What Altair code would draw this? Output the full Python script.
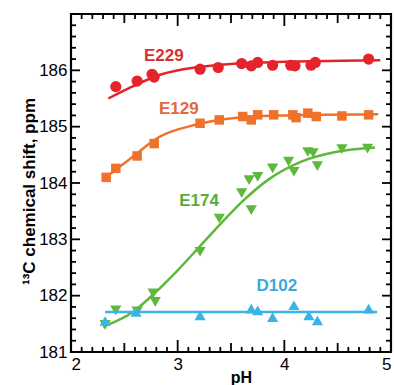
import altair as alt
import pandas as pd

# ---------------- data ----------------
e229_ph  = [2.42, 2.62, 2.76, 2.78, 3.21, 3.38, 3.60, 3.69, 3.75, 3.89, 4.06, 4.10, 4.25, 4.29, 4.79]
e229_ppm = [185.71, 185.81, 185.93, 185.88, 186.02, 186.05, 186.12, 186.08, 186.14, 186.09, 186.09, 186.08, 186.09, 186.14, 186.20]
e229_fit_ph  = [2.35, 2.54, 2.85, 3.16, 3.47, 3.79, 4.90]
e229_fit_ppm = [185.50, 185.68, 185.93, 186.05, 186.11, 186.14, 186.18]

e129_ph  = [2.33, 2.42, 2.62, 2.78, 3.21, 3.39, 3.61, 3.69, 3.75, 3.90, 4.08, 4.11, 4.22, 4.30, 4.54, 4.79]
e129_ppm = [184.10, 184.26, 184.48, 184.70, 185.06, 185.12, 185.18, 185.12, 185.21, 185.21, 185.21, 185.16, 185.24, 185.18, 185.19, 185.21]
e129_fit_ph  = [2.34, 2.54, 2.85, 3.16, 3.47, 3.79, 4.88]
e129_fit_ppm = [184.12, 184.41, 184.84, 185.03, 185.14, 185.19, 185.22]

e174_ph  = [2.32, 2.42, 2.62, 2.77, 2.79, 3.21, 3.39, 3.60, 3.67, 3.69, 3.75, 3.89, 4.04, 4.09, 4.22, 4.27, 4.31, 4.54, 4.78]
e174_ppm = [181.48, 181.74, 181.72, 182.04, 181.89, 182.78, 183.37, 183.82, 184.05, 183.52, 184.11, 184.26, 184.38, 184.20, 184.55, 184.53, 184.30, 184.60, 184.61]
e174_fit_ph  = [2.30, 2.58, 2.77, 3.00, 3.21, 3.40, 3.60, 3.85, 4.16, 4.48, 4.85]
e174_fit_ppm = [181.45, 181.71, 182.02, 182.45, 182.88, 183.27, 183.66, 184.06, 184.38, 184.55, 184.63]

d102_ph  = [2.32, 2.61, 3.21, 3.69, 3.75, 3.89, 4.09, 4.23, 4.31, 4.79]
d102_ppm = [181.55, 181.71, 181.65, 181.77, 181.74, 181.62, 181.83, 181.65, 181.56, 181.77]
d102_fit_ph  = [2.32, 4.87]
d102_fit_ppm = [181.71, 181.71]

label_text = ["E229", "E129", "E174", "D102"]
label_ph   = [2.87, 3.01, 3.20, 3.93]
label_ppm  = [186.25, 185.31, 183.68, 182.17]
colors     = ["#e4232a", "#f0712a", "#5db83c", "#3ab4e6"]
label_colors = ["#d9302e", "#e2683a", "#57ad3c", "#3aa9de"]
shapes     = ["circle", "square", "triangle-down", "triangle-up"]

x_major = [2, 3, 4, 5]
x_half  = [2.5, 3.5, 4.5]
x_minor = [round(2 + i / 10, 1) for i in range(1, 30) if i % 5 != 0]
y_labels = [181, 182, 183, 184, 185, 186]
y_major = [181, 182, 183, 184, 185, 186, 187]
y_minor = [round(181 + i / 5, 1) for i in range(1, 30) if i % 5 != 0]

W, H = 320, 338
FONT = "Liberation Sans"

xs = alt.Scale(domain=[2, 5], nice=False, zero=False)
ys = alt.Scale(domain=[181, 187], nice=False, zero=False)

x_axis = alt.Axis(values=x_major, ticks=False, domain=False, grid=False,
                  labelFont=FONT, labelFontSize=17, labelColor="black", labelPadding=4,
                  titleFont=FONT, titleFontSize=16, titleFontWeight="bold", titleColor="black",
                  titleX=170, titleY=17, titleBaseline="top", titleAlign="center")
y_axis = alt.Axis(values=y_labels, ticks=False, domain=False, grid=False,
                  labelFont=FONT, labelFontSize=17, labelColor="black", labelPadding=4,
                  titleFont=FONT, titleFontSize=17, titleFontWeight="bold", titleColor="black",
                  titleX=-42, titleY=177, titleAngle=270, titleBaseline="middle", titleAlign="center")
X_TITLE = "pH"
Y_TITLE = "¹³C chemical shift, ppm"

def xenc(field="pH"):
    return alt.X(f"{field}:Q", scale=xs, axis=x_axis, title=X_TITLE)

def yenc(field="ppm"):
    return alt.Y(f"{field}:Q", scale=ys, axis=y_axis, title=Y_TITLE)

layers = []

# inward ticks
def xticks(vals, length, top):
    df = pd.DataFrame({"t": vals})
    if top:
        yy, yy2 = alt.value(0), alt.value(length)
    else:
        yy, yy2 = alt.value(H), alt.value(H - length)
    return alt.Chart(df).mark_rule(color="black", strokeWidth=1.8).encode(
        x=xenc("t"), y=yy, y2=yy2)

def yticks(vals, length, right):
    df = pd.DataFrame({"t": vals})
    if right:
        xx, xx2 = alt.value(W), alt.value(W - length)
    else:
        xx, xx2 = alt.value(0), alt.value(length)
    return alt.Chart(df).mark_rule(color="black", strokeWidth=1.8).encode(
        y=yenc("t"), x=xx, x2=xx2)

series = [
    (e229_ph, e229_ppm, e229_fit_ph, e229_fit_ppm),
    (e129_ph, e129_ppm, e129_fit_ph, e129_fit_ppm),
    (e174_ph, e174_ppm, e174_fit_ph, e174_fit_ppm),
    (d102_ph, d102_ppm, d102_fit_ph, d102_fit_ppm),
]
sizes = [125, 90, 125, 125]

for i, (px, py, fx, fy) in enumerate(series):
    fit = pd.DataFrame({"pH": fx, "ppm": fy})
    layers.append(alt.Chart(fit).mark_line(color=colors[i], strokeWidth=2.5, interpolate="monotone").encode(
        x=xenc(), y=yenc()))
    pts = pd.DataFrame({"pH": px, "ppm": py})
    layers.append(alt.Chart(pts).mark_point(shape=shapes[i], filled=True, color=colors[i], opacity=1,
                                            size=sizes[i]).encode(x=xenc(), y=yenc()))

lab = pd.DataFrame({"text": label_text, "pH": label_ph, "ppm": label_ppm, "c": label_colors})
layers.append(alt.Chart(lab).mark_text(font=FONT, fontSize=17, fontWeight="bold",
                                       align="center", baseline="middle").encode(
    x=xenc(), y=yenc(), text="text:N", color=alt.Color("c:N", scale=None)))

for top in (False, True):
    layers.append(xticks(x_major, 12, top))
    layers.append(xticks(x_half, 9, top))
    layers.append(xticks(x_minor, 5, top))
for right in (False, True):
    layers.append(yticks(y_major, 9, right))
    layers.append(yticks(y_minor, 5, right))

chart = alt.layer(*layers).properties(
    width=W, height=H,
    autosize=alt.AutoSizeParams(type="none"),
    padding={"left": 71, "top": 14, "right": 3, "bottom": 33},
    background="white",
).configure_view(stroke="black", strokeWidth=2.2)

chart.save("out.html", embed_options={"renderer": "svg", "actions": False})
